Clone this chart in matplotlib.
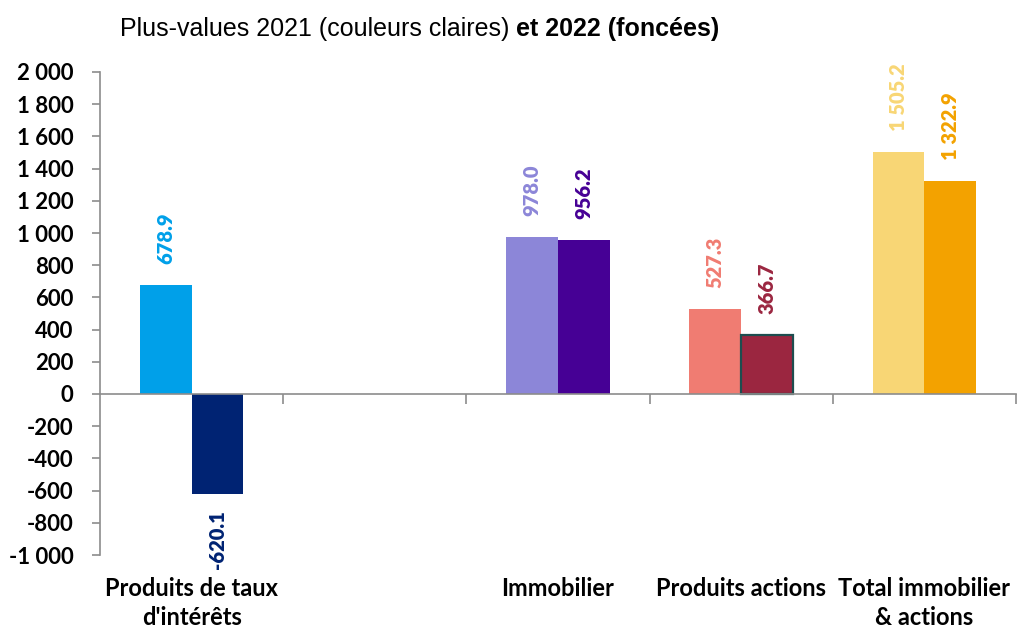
import numpy as np
import matplotlib.pyplot as plt
from matplotlib.ticker import FuncFormatter, FixedLocator
import matplotlib.transforms as mtransforms

# données
categories = ["Produits de taux\nd'intérêts", "", "Immobilier", "Produits actions", "Total immobilier\n& actions"]
vals_2021 = [678.9, np.nan, 978.0, 527.3, 1505.2]
vals_2022 = [-620.1, np.nan, 956.2, 366.7, 1322.9]
labels_2021 = ["678.9", "", "978.0", "527.3", "1 505.2"]
labels_2022 = ["-620.1", "", "956.2", "366.7", "1 322.9"]

light_cols = ["#00A0E9", "#ffffff", "#8C86D8", "#F07C72", "#F8D675"]
dark_cols = ["#002373", "#ffffff", "#460095", "#9B2640", "#F3A200"]
edge_dark = ["none", "none", "none", "#1D4D4F", "none"]

lab_font = ["Lato", "DejaVu Sans"]
title_font = ["Liberation Sans", "DejaVu Sans"]
axis_grey = "#8C8C8C"

fig = plt.figure(figsize=(10.18, 6.3), dpi=100)
ax = fig.add_axes([100 / 1018, 1 - 555 / 630, 916 / 1018, 483 / 630])

x = np.arange(len(categories))
w = 0.283
for i in x:
    if np.isnan(vals_2021[i]):
        continue
    ax.bar(i - w / 2, vals_2021[i], width=w, color=light_cols[i], zorder=2)
    ax.bar(i + w / 2, vals_2022[i], width=w, color=dark_cols[i],
           edgecolor=edge_dark[i], linewidth=1.6 if edge_dark[i] != "none" else 0, zorder=2)
    ax.annotate(labels_2021[i], (i - w / 2, vals_2021[i]), xytext=(0, 15), textcoords="offset points",
                rotation=90, ha="center", va="bottom", color=light_cols[i],
                fontsize=14.5, fontweight="heavy", family=lab_font)
    v = vals_2022[i]
    ax.annotate(labels_2022[i], (i + w / 2, v), xytext=(0, 15 if v > 0 else -12), textcoords="offset points",
                rotation=90, ha="center", va="bottom" if v > 0 else "top", color=dark_cols[i],
                fontsize=14.5, fontweight="heavy", family=lab_font)

ax.set_xlim(-0.5, 4.5)
ax.set_ylim(-1000, 2000)
ax.yaxis.set_major_locator(FixedLocator(np.arange(-1000, 2001, 200)))
ax.yaxis.set_major_formatter(FuncFormatter(lambda v, p: "{:,.0f}".format(v).replace(",", " ")))
for t in ax.get_yticklabels():
    t.set_fontfamily(lab_font)
    t.set_fontweight("bold")
ax.tick_params(axis="y", labelsize=16, length=6, color=axis_grey, width=1.2, pad=13)

# axe horizontal à zéro
ax.spines["top"].set_visible(False)
ax.spines["right"].set_visible(False)
ax.spines["bottom"].set_position(("data", 0))
ax.spines["left"].set_color(axis_grey)
ax.spines["bottom"].set_color(axis_grey)
ax.spines["left"].set_linewidth(1.2)
ax.spines["bottom"].set_linewidth(1.2)
ax.set_xticks(np.arange(0.5, 5.0, 1.0))
ax.set_xticklabels([])
ax.tick_params(axis="x", length=7, color=axis_grey, width=1.2, direction="out")

trans = mtransforms.blended_transform_factory(ax.transData, fig.transFigure)
for i, c in enumerate(categories):
    ax.text(i, 1 - 577 / 630, c, transform=trans, ha="center", va="top", fontsize=17,
            fontweight="bold", family=lab_font, linespacing=1.3, clip_on=False)

# titre: partie normale + partie grasse
t1 = fig.text(120 / 1018, 1 - 29 / 630, "Plus-values 2021 (couleurs claires) ", ha="left", va="center",
              fontsize=18, family=title_font)
fig.canvas.draw()
bb = t1.get_window_extent(renderer=fig.canvas.get_renderer())
fig.text(bb.x1 / fig.bbox.width, 1 - 29 / 630, "et 2022 (foncées)", ha="left", va="center",
         fontsize=18, fontweight="bold", family=title_font)

plt.savefig("out.png", dpi=100)
plt.close()
